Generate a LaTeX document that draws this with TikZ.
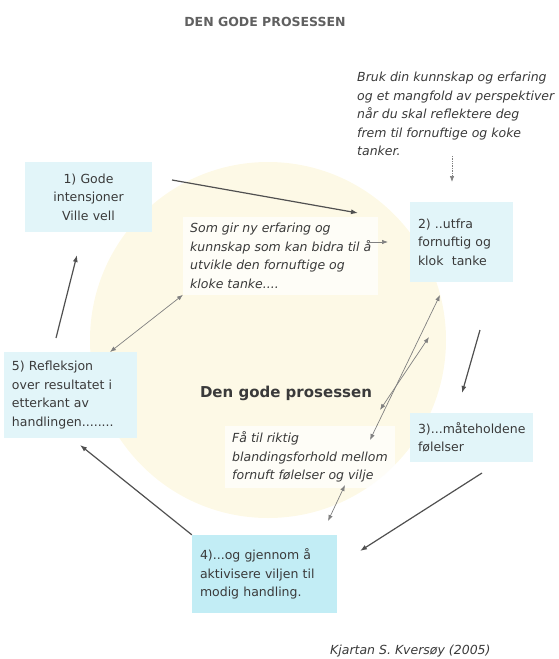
\documentclass[tikz,border=0pt]{standalone}
\usepackage{fontspec}
\setmainfont{DejaVu Sans}
\usetikzlibrary{arrows.meta}

\definecolor{boxblue}{HTML}{E2F5F9}
\definecolor{boxdeep}{HTML}{C2EDF5}
\definecolor{discyellow}{HTML}{FDF9E6}
\definecolor{inkgray}{HTML}{3A3A3A}
\definecolor{linegray}{HTML}{505050}

\begin{document}
\begin{tikzpicture}[x=1pt,y=-1pt,
  stepbox/.style={rectangle, fill=boxblue, inner xsep=8pt, inner ysep=0pt, align=left,
    text=inkgray, font=\fontsize{12.5}{18.5}\selectfont},
  note/.style={inner xsep=7pt, inner ysep=6pt, align=left, text=inkgray,
    font=\fontsize{12.5}{18.5}\selectfont\itshape},
  cycle/.style={linegray, line width=1.2pt, -{Latex[length=7pt,width=5pt]}},
  pointer/.style={gray, line width=0.7pt, -{Latex[length=6pt,width=4.5pt]}},
  twoway/.style={gray, line width=0.7pt, {Latex[length=6pt,width=4.5pt]}-{Latex[length=6pt,width=4.5pt]}}]

\useasboundingbox (0,0) rectangle (558,659);
\fill[discyellow] (268,340) circle[radius=178];

\node[font=\fontsize{12.5}{15}\selectfont\bfseries, text=gray!75!black] (title) at (265,22) {DEN GODE PROSESSEN};

\node[note, inner sep=0pt, anchor=west] (bruk) at (357,114)
  {Bruk din kunnskap og erfaring\\og et mangfold av perspektiver\\når du skal reflektere deg\\frem til fornuftige og koke\\tanker.};

% the five steps
\node[stepbox, align=center, text width=111pt, minimum height=70pt] (s1) at (88.5,197) {1) Gode\\intensjoner\\Ville vell};
\node[stepbox, text width=87pt, minimum height=80pt] (s2) at (461.5,242) {2) ..utfra\\fornuftig og\\klok~~tanke};
\node[stepbox, text width=107pt, minimum height=49pt] (s3) at (471.5,437.5) {3)...måteholdene\\følelser};
\node[stepbox, fill=boxdeep, text width=129pt, minimum height=78pt] (s4) at (264.5,574) {4)...og gjennom å\\aktivisere viljen til\\modig handling.};
\node[stepbox, text width=117pt, minimum height=86pt] (s5) at (70.5,395) {5) Refleksjon\\over resultatet i\\etterkant av\\handlingen........};

% notes inside the disc
\node[note, fill=white, fill opacity=0.7, text opacity=1, anchor=west] (gain) at (183,256)
  {Som gir ny erfaring og\\kunnskap som kan bidra til å\\utvikle den fornuftige og\\kloke tanke....};
\node[note, fill=white, fill opacity=0.7, text opacity=1, anchor=west] (blend) at (225,457)
  {Få til riktig\\blandingsforhold mellom\\fornuft følelser og vilje};
\node[font=\fontsize{15}{18}\selectfont\bfseries, text=inkgray] (core) at (286,393) {Den gode prosessen};

\node[note, inner sep=0pt, anchor=west] (author) at (330,651) {Kjartan S. Kversøy (2005)};

% arrow ends
\coordinate (c12a) at (172,180);
\coordinate (c12b) at (358,213);
\coordinate (cbr) at (452,182);
\coordinate (cg1) at (367,242);
\coordinate (cg2) at (388,242);
\coordinate (cA1) at (440,295);
\coordinate (cA2) at (370,440);
\coordinate (cB1) at (429,337);
\coordinate (cB2) at (380,410);
\coordinate (c23a) at (480,330);
\coordinate (c23b) at (462,393);
\coordinate (c34a) at (482,473);
\coordinate (c34b) at (360,551);
\coordinate (cv1) at (345,485);
\coordinate (cv2) at (328,521);
\coordinate (c45) at (80,445);
\coordinate (c51a) at (56,338);
\coordinate (c51b) at (77,255);
\coordinate (cr1) at (110,352);

\draw[cycle] (c12a) -- (c12b);
\draw[cycle] (c23a) -- (c23b);
\draw[cycle] (c34a) -- (c34b);
\draw[cycle] (s4.north west) -- (c45);
\draw[cycle] (c51a) -- (c51b);

\draw[pointer, densely dotted] (cbr |- bruk.south) -- (cbr);
\draw[pointer] (cg1) -- (cg2);
\draw[twoway] (cA1) -- (cA2);
\draw[twoway] (cB1) -- (cB2);
\draw[twoway] (cv1) -- (cv2);
\draw[twoway] (cr1) -- (gain.south west);

\end{tikzpicture}
\end{document}
